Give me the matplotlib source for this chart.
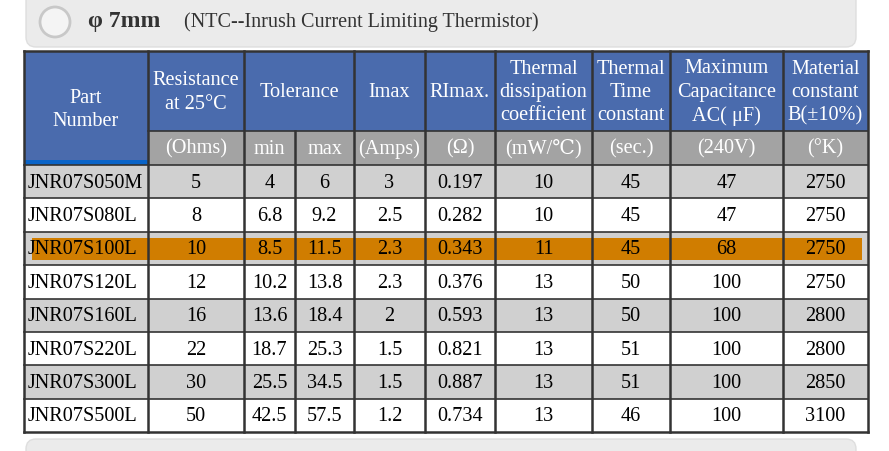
import matplotlib
matplotlib.use('Agg')
import matplotlib.pyplot as plt
from matplotlib.patches import Rectangle, FancyBboxPatch, Circle

# table content
part_numbers = ['JNR07S050M', 'JNR07S080L', 'JNR07S100L', 'JNR07S120L',
                'JNR07S160L', 'JNR07S220L', 'JNR07S300L', 'JNR07S500L']
resistance = ['5', '8', '10', '12', '16', '22', '30', '50']
tol_min = ['4', '6.8', '8.5', '10.2', '13.6', '18.7', '25.5', '42.5']
tol_max = ['6', '9.2', '11.5', '13.8', '18.4', '25.3', '34.5', '57.5']
imax = ['3', '2.5', '2.3', '2.3', '2', '1.5', '1.5', '1.2']
rimax = ['0.197', '0.282', '0.343', '0.376', '0.593', '0.821', '0.887', '0.734']
dissipation = ['10', '10', '11', '13', '13', '13', '13', '13']
time_const = ['45', '45', '45', '50', '50', '51', '51', '46']
capacitance = ['47', '47', '68', '100', '100', '100', '100', '100']
b_const = ['2750', '2750', '2750', '2750', '2800', '2800', '2850', '3100']

units = ['(Ohms)', 'min', 'max', '(Amps)', '(\u03a9)', '(mW/\u2103)', '(sec.)', '(240V)', '(\u00b0K)']
headers = ['Resistance\nat 25\u00b0C', 'Tolerance', 'Imax', 'RImax.',
           'Thermal\ndissipation\ncoefficient', 'Thermal\nTime\nconstant',
           'Maximum\nCapacitance\nAC( \u03bcF)', 'Material\nconstant\nB(\u00b110%)']
highlight_row = 2

title = '\u03c6 7mm'
subtitle = '(NTC--Inrush Current Limiting Thermistor)'

# layout in pixels
col_x = [24, 148, 244, 295, 354, 425, 495, 592, 670, 783, 868]
top, head_bot, unit_bot = 51, 131, 165
row_h = 33.4

blue = '#4a6bad'
unit_gray = '#a3a3a3'
row_gray = '#d0d0d0'
orange = '#d07d00'
line_c = '#333333'
serif = ['Liberation Serif', 'DejaVu Serif']
fs = 14.6

fig = plt.figure(figsize=(8.89, 4.51), dpi=100)
ax = fig.add_axes([0, 0, 1, 1])
ax.set_xlim(0, 889)
ax.set_ylim(451, 0)
ax.axis('off')

# title bar
ax.add_patch(FancyBboxPatch((26, -20), 830, 67, boxstyle='round,pad=0,rounding_size=10',
                            fc='#ebebeb', ec='#dedede', lw=1))
ax.add_patch(Circle((55, 22), 15, fc='#f4f4f4', ec='#c8c8c8', lw=2))
ax.text(88, 21, title, fontsize=17, fontweight='bold', family=serif,
        color='#333333', va='center', ha='left')
ax.text(184, 22, subtitle, fontsize=14.5, family=serif, color='#333333',
        va='center', ha='left')

# bottom bar
ax.add_patch(FancyBboxPatch((26, 439), 830, 40, boxstyle='round,pad=0,rounding_size=10',
                            fc='#ebebeb', ec='#dedede', lw=1))

# header
ax.add_patch(Rectangle((col_x[0], top), col_x[-1] - col_x[0], head_bot - top, fc=blue, ec='none'))
ax.add_patch(Rectangle((col_x[1], head_bot), col_x[-1] - col_x[1], unit_bot - head_bot,
                       fc=unit_gray, ec='none'))
ax.add_patch(Rectangle((col_x[0], head_bot), col_x[1] - col_x[0], unit_bot - head_bot, fc=blue, ec='none'))
ax.add_patch(Rectangle((col_x[0], unit_bot - 5), col_x[1] - col_x[0], 5, fc='#0a64c8', ec='none'))

ax.text((col_x[0] + col_x[1]) / 2, (top + unit_bot) / 2 + 2, 'Part\nNumber', color='white',
        fontsize=fs, family=serif, ha='center', va='center', linespacing=1.3)
head_spans = [(1, 2), (2, 4), (4, 5), (5, 6), (6, 7), (7, 8), (8, 9), (9, 10)]
for (a, b), h in zip(head_spans, headers):
    ax.text((col_x[a] + col_x[b]) / 2, (top + head_bot) / 2 + 1.5, h, color='white',
            fontsize=fs, family=serif, ha='center', va='center', linespacing=1.3)
for i, u in enumerate(units):
    ax.text((col_x[i + 1] + col_x[i + 2]) / 2, (head_bot + unit_bot) / 2 + 1, u, color='white',
            fontsize=fs, family=serif, ha='center', va='center')

# body rows
columns = [part_numbers, resistance, tol_min, tol_max, imax, rimax,
           dissipation, time_const, capacitance, b_const]
for r in range(len(part_numbers)):
    y0 = unit_bot + r * row_h
    fc = row_gray if r % 2 == 0 else 'white'
    ax.add_patch(Rectangle((col_x[0], y0), col_x[-1] - col_x[0], row_h, fc=fc, ec='none'))
    if r == highlight_row:
        ax.add_patch(Rectangle((col_x[0] + 8, y0 + 6), col_x[-1] - col_x[0] - 14, row_h - 11,
                               fc=orange, ec='none'))
    ax.plot([col_x[0], col_x[-1]], [y0, y0], color=line_c, lw=1.2)
    for c, col in enumerate(columns):
        ty = y0 + row_h / 2 + 1.5
        if c == 0:
            ax.text(col_x[0] + 4, ty, col[r], fontsize=fs, family=serif,
                    ha='left', va='center', color='black')
        else:
            ax.text((col_x[c] + col_x[c + 1]) / 2, ty, col[r], fontsize=fs,
                    family=serif, ha='center', va='center', color='black')

bottom = unit_bot + len(part_numbers) * row_h
ax.plot([col_x[0], col_x[-1]], [bottom, bottom], color=line_c, lw=1.8)
ax.plot([col_x[0], col_x[-1]], [top, top], color=line_c, lw=1.8)
ax.plot([col_x[1], col_x[-1]], [head_bot, head_bot], color=line_c, lw=1.2)

# vertical lines
for i, x in enumerate(col_x):
    if i == 3:
        ax.plot([x, x], [head_bot, bottom], color=line_c, lw=1.8)
    else:
        ax.plot([x, x], [top, bottom], color=line_c, lw=1.8)

fig.savefig('out.png', dpi=100)
